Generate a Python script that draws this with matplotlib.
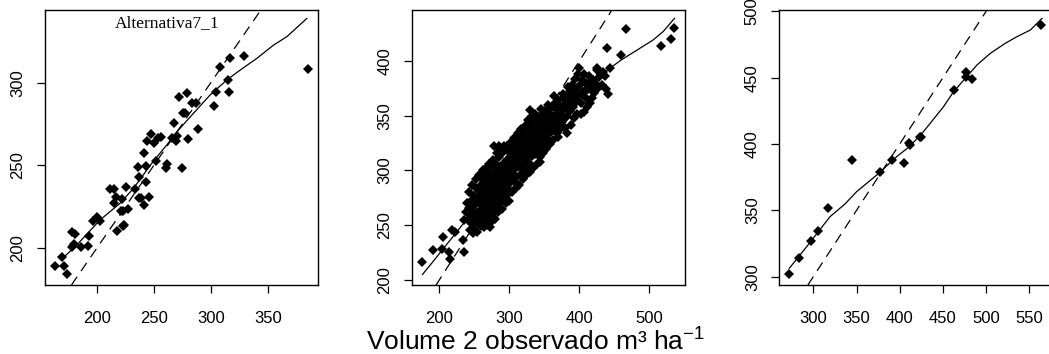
import matplotlib
matplotlib.use('Agg')
import matplotlib.pyplot as plt

plt.rcParams['font.family'] = ['Liberation Sans', 'DejaVu Sans']
plt.rcParams['mathtext.fontset'] = 'custom'
plt.rcParams['mathtext.rm'] = 'Liberation Sans'

# painel 1 - Alternativa7_1
x1 = [163.5, 169.6, 171.6, 173.7, 178.1, 181.0, 178.1, 180.1, 186.3, 192.7, 193.0, 196.5,
      200.0, 202.9, 212.0, 215.5, 214.9, 216.7, 218.1, 221.1, 222.8, 223.4, 224.0, 222.5,
      225.7, 227.8, 233.6, 236.5, 236.8, 237.4, 239.2, 241.5, 241.8, 243.3, 243.3, 243.9,
      245.9, 247.7, 250.6, 252.0, 253.5, 256.4, 260.5, 261.4, 266.4, 267.8, 269.6, 270.2,
      272.2, 274.6, 275.7, 277.5, 278.9, 280.1, 283.3, 286.8, 289.2, 303.2, 304.7, 308.2,
      314.9, 315.8, 317.0, 328.7, 385.1]
y1 = [189.5, 194.6, 189.5, 184.3, 209.7, 208.5, 201.0, 202.4, 201.0, 201.4, 207.4, 216.5,
      219.1, 216.7, 236.0, 235.8, 227.6, 231.2, 210.7, 222.5, 222.7, 213.5, 214.1, 229.8,
      237.2, 223.7, 235.8, 248.9, 243.3, 230.4, 230.2, 226.2, 257.7, 240.2, 249.7, 265.0,
      230.8, 268.8, 263.4, 252.7, 266.4, 267.0, 248.3, 250.7, 266.8, 275.9, 264.8, 268.0,
      291.5, 248.3, 281.5, 281.5, 293.6, 265.8, 287.5, 287.5, 272.0, 286.1, 294.4, 309.7,
      301.6, 294.4, 314.7, 316.1, 308.5]
curva1_x = [169.3, 182.5, 202.9, 220.5, 232.2, 248.2, 261.4, 271.6, 284.8, 299.4, 314.0,
            325.7, 340.4, 355.0, 366.7, 384.2]
curva1_y = [193.4, 202.0, 217.1, 227.2, 236.2, 251.3, 262.4, 271.4, 281.5, 292.6, 301.6,
            307.6, 314.7, 322.7, 327.8, 338.8]

# painel 2
pts2 = [
    (175.7, 216.7), (191.4, 227.4), (205.7, 239.6), (203.3, 228.0), (214.3, 225.9),
    (215.2, 218.9), (217.6, 245.7), (222.4, 244.1), (233.3, 236.5), (235.7, 225.9),
    (235.2, 254.8), (243.8, 245.7), (247.6, 242.6), (272.4, 248.7), (343.8, 308.1),
    (329.5, 355.3), (278.6, 322.4), (285.7, 322.4), (441.4, 369.6), (439.0, 411.6),
    (459.5, 405.5), (466.7, 428.9), (516.7, 413.7), (531.0, 419.8), (535.7, 429.8),
    (424.8, 391.8), (434.3, 390.3), (443.8, 393.3), (407.6, 372.9), (407.1, 353.7),
    (416.7, 381.1), (381.9, 333.9),
    (238, 262), (240, 270), (241, 255), (242, 266), (244, 259), (245, 272), (246, 251),
    (247, 263), (248, 268), (249, 277), (250, 256), (251, 262), (252, 284), (253, 270),
    (254, 253), (255, 275), (255, 262), (256, 281), (257, 258), (258, 270), (258, 286),
    (259, 264), (260, 249), (260, 276),
    (261, 292), (261, 268), (262, 258), (263, 281), (263, 272), (264, 263), (265, 287),
    (265, 296), (266, 270), (266, 255), (267, 278), (268, 290), (268, 264), (269, 299),
    (270, 284), (270, 272), (271, 258), (272, 293), (272, 278), (273, 266), (274, 303),
    (274, 287), (275, 275), (275, 261), (276, 296), (277, 282), (277, 270), (278, 305),
    (278, 290), (279, 276), (279, 264), (280, 298), (280, 285),
    (281, 272), (281, 306), (282, 292), (282, 280), (283, 268), (284, 300), (284, 287),
    (285, 276), (285, 312), (286, 294), (287, 283), (287, 270), (288, 303), (288, 290),
    (289, 278), (290, 316), (290, 298), (291, 286), (291, 274), (292, 307), (293, 295),
    (293, 283), (294, 320), (294, 302), (295, 290), (296, 278), (296, 310), (297, 298),
    (298, 287), (298, 318), (299, 305), (300, 293), (300, 282),
    (301, 312), (302, 300), (302, 322), (303, 290), (304, 309), (305, 318), (305, 297),
    (306, 326), (307, 305), (308, 293), (308, 314), (309, 322), (310, 302), (311, 311),
    (311, 288), (312, 320), (313, 307), (314, 328), (315, 296), (315, 316), (316, 305),
    (317, 323), (318, 312), (319, 331), (319, 300), (320, 318),
    (321, 308), (322, 326), (323, 316), (323, 335), (324, 303), (325, 322), (326, 312),
    (327, 340), (327, 329), (328, 318), (329, 306), (330, 334), (331, 323), (332, 313),
    (333, 344), (333, 330), (334, 320), (335, 338), (336, 327), (337, 315), (338, 346),
    (338, 333), (339, 322), (340, 340), (340, 329),
    (341, 318), (342, 348), (342, 336), (343, 326), (344, 344), (345, 333), (346, 352),
    (347, 322), (347, 340), (348, 330), (349, 347), (350, 337), (351, 326), (352, 355),
    (352, 343), (353, 333), (354, 349), (355, 339), (356, 328), (357, 356), (358, 345),
    (359, 335), (360, 351),
    (361, 341), (362, 358), (363, 348), (364, 337), (365, 362), (366, 352), (367, 343),
    (368, 357), (369, 331), (370, 364), (371, 349), (372, 340), (373, 359), (374, 352),
    (375, 344), (376, 366), (377, 355), (378, 347), (379, 361), (380, 339),
    (381, 358), (382, 368), (383, 350), (385, 362), (386, 373), (387, 354), (389, 366),
    (390, 378), (391, 358), (393, 370), (394, 384), (395, 363), (396, 375), (397, 352),
    (398, 388), (399, 368), (400, 394), (401, 378),
    (402, 362), (404, 383), (405, 372), (407, 388), (409, 366), (410, 380), (412, 374),
    (414, 386), (415, 362), (417, 376), (419, 383), (421, 371), (423, 380), (426, 375),
    (428, 385), (431, 388), (436, 386), (438, 374),
    (243, 280), (246, 287), (249, 247), (252, 292), (254, 244), (256, 296), (259, 252),
    (262, 300), (264, 248), (267, 302), (269, 250), (271, 306), (273, 252), (276, 310),
    (279, 256), (282, 316), (284, 262), (287, 320), (289, 265), (292, 322), (295, 270),
    (297, 322), (299, 272), (303, 326), (304, 280), (307, 330), (309, 284), (312, 334),
    (314, 287), (317, 338), (319, 292), (322, 341), (324, 296), (327, 346), (329, 299),
    (332, 350), (334, 302), (337, 352), (339, 306), (344, 312), (348, 316), (353, 320),
    (358, 324), (363, 328), (368, 334), (373, 338), (377, 370), (384, 376), (388, 342),
    (392, 348), (403, 352), (411, 358), (418, 366), (425, 394), (432, 378), (364, 368),
    (355, 360), (345, 356), (310, 328), (300, 323),
]
x2 = [p[0] for p in pts2]
y2 = [p[1] for p in pts2]
curva2_x = [176, 190, 205, 220, 235, 250, 265, 280, 295, 310, 325, 340, 355, 370, 385,
            400, 415, 430, 445, 460, 475, 490, 505, 520, 536]
curva2_y = [205, 216, 228, 240, 252, 264, 277, 290, 302, 314, 326, 337, 347, 356, 364,
            372, 380, 387, 394, 401, 407, 413, 419, 427, 439]

# painel 3
x3 = [271.8, 283.8, 296.9, 305.0, 317.0, 345.2, 377.3, 391.6, 405.5, 410.5, 412.0, 422.9,
      424.8, 462.3, 476.6, 476.6, 484.0, 563.9]
y3 = [301.8, 313.8, 326.6, 334.7, 351.8, 387.7, 378.6, 387.9, 385.9, 401.0, 399.0, 405.0,
      405.5, 440.5, 454.3, 450.3, 449.2, 490.0]
curva3_x = [272.2, 292.3, 319.3, 336.7, 350.2, 373.4, 396.6, 412.1, 427.5, 450.7, 462.3,
            477.7, 489.3, 504.8, 522.2, 535.7, 551.2, 564.7]
curva3_y = [306.3, 322.6, 345.2, 354.8, 364.1, 376.6, 390.5, 398.5, 409.3, 428.1, 439.4,
            450.8, 459.5, 468.3, 475.9, 480.9, 485.9, 494.7]

paineis = [
    (x1, y1, curva1_x, curva1_y, (154.6, 394), (177.8, 343.9),
     [200, 250, 300, 350], [200, 250, 300]),
    (x2, y2, curva2_x, curva2_y, (161, 551), (195.4, 446.6),
     [200, 300, 400, 500], [200, 250, 300, 350, 400]),
    (x3, y3, curva3_x, curva3_y, (260.6, 576.6), (293.7, 501),
     [300, 350, 400, 450, 500, 550], [300, 350, 400, 450, 500]),
]

W, H = 1049, 354
fig = plt.figure(figsize=(W / 100, H / 100), dpi=100)
lefts = [45, 412, 779.3]

for left, (xs, ys, cx, cy, xl, yl, xt, yt) in zip(lefts, paineis):
    ax = fig.add_axes([left / W, 1 - 285 / H, 273 / W, 275 / H])
    ax.plot(xs, ys, 'D', color='black', markersize=4.8, markeredgewidth=0)
    ax.plot(cx, cy, color='black', linewidth=0.9)
    ax.axline((0, 0), slope=1, color='black', linewidth=0.9, linestyle=(0, (8, 5.5)))
    ax.set_xlim(xl)
    ax.set_ylim(yl)
    ax.set_xticks(xt)
    ax.set_yticks(yt)
    for s in ax.spines.values():
        s.set_linewidth(1.0)
    ax.tick_params(direction='out', length=6, width=0.9, labelsize=12, colors='black')
    ax.tick_params(axis='x', pad=13)
    ax.tick_params(axis='y', pad=8, labelrotation=90)
    for lab in ax.get_yticklabels():
        lab.set_va('center')
    if left == lefts[0]:
        ax.text(0.446, 0.953, 'Alternativa7_1', transform=ax.transAxes, ha='center',
                va='center', fontsize=12.5, family='Liberation Serif')

fig.text(536 / W, 4 / H, 'Volume 2 observado m³ ha$^{\\mathregular{-1}}$', ha='center',
         va='baseline', fontsize=19)

fig.savefig('out.png', dpi=100)
